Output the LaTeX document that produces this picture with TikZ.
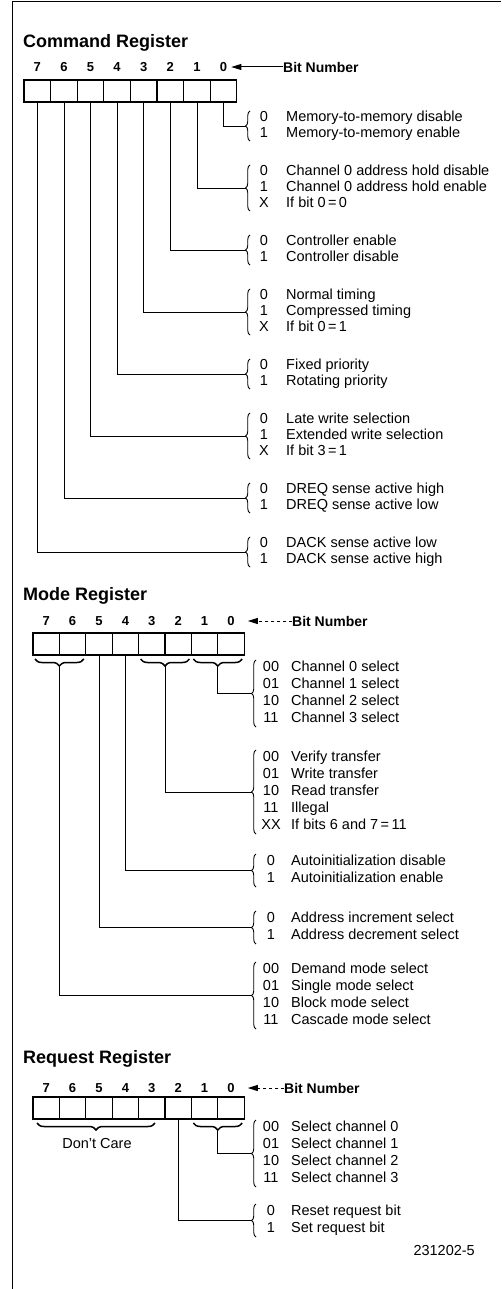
\documentclass[tikz,border=0pt]{standalone}
\usepackage{fontspec}
\setmainfont{Liberation Sans}
\usetikzlibrary{arrows.meta,decorations.pathreplacing}

\begin{document}
\begin{tikzpicture}[x=1pt,y=-1pt,
  cell/.style={draw,line width=1.1pt,minimum width=26.6pt,minimum height=22pt,inner sep=0pt,outer sep=0pt},
  regtitle/.style={font=\fontsize{18}{20}\selectfont\bfseries,anchor=west,inner sep=0pt},
  bitno/.style={font=\fontsize{13}{15}\selectfont\bfseries,inner sep=0pt},
  bitlbl/.style={font=\fontsize{14}{16}\selectfont\bfseries,anchor=west,inner sep=0pt},
  val/.style={font=\fontsize{14.5}{16}\selectfont,inner sep=0pt,text height=10pt,text depth=3pt},
  desc/.style={font=\fontsize{14.5}{16}\selectfont,anchor=west,inner sep=0pt,text height=10pt,text depth=3pt},
  lead/.style={line width=0.8pt},
  grpbrace/.style={decorate,decoration={brace,amplitude=4.5pt},line width=0.9pt},
  ubrace/.style={decorate,decoration={brace,amplitude=7pt},line width=1.5pt},
  bitarrow/.style={line width=1pt,-{Triangle[length=10pt,width=6pt]}}]
\useasboundingbox (0,0) rectangle (501,1289);
\draw[line width=1pt] (12,1289) -- (12,2) -- (501,2);

% command register
\node[regtitle] (cmdtitle) at (23,43) {Command Register};
\foreach \b in {0,...,7}{
  \node[cell] (c\b) at ({37.3+26.6*(7-\b)},91) {};
  \node[bitno] (cn\b) at ({37.3+26.6*(7-\b)},67) {\b};
}
\node[bitlbl] (cbit) at (283,67) {Bit Number};
\draw[bitarrow] (cbit.west) -- ([xshift=4pt]cn0.east);
\foreach \b/\y/\n/\rows in {
  0/118/2/{0/Memory-to-memory disable,1/Memory-to-memory enable},
  1/172/3/{0/Channel 0 address hold disable,1/Channel 0 address hold enable,X/If bit 0\,=\,0},
  2/242/2/{0/Controller enable,1/Controller disable},
  3/296/3/{0/Normal timing,1/Compressed timing,X/If bit 0\,=\,1},
  4/366/2/{0/Fixed priority,1/Rotating priority},
  5/420/3/{0/Late write selection,1/Extended write selection,X/If bit 3\,=\,1},
  6/490/2/{0/DREQ sense active high,1/DREQ sense active low},
  7/544/2/{0/DACK sense active low,1/DACK sense active high}}{
  \foreach \v/\t [count=\i] in \rows {
    \node[val] (cv\b\i) at (264,{\y+16*(\i-1)}) {\v};
    \node[desc] (cd\b\i) at (286,{\y+16*(\i-1)}) {\t};
  }
  \draw[grpbrace] (250,{\y+16*(\n-1)+7}) -- (250,{\y-7});
  \coordinate (ct\b) at (245.5,{\y+8*(\n-1)});
  \draw[lead] (c\b.south) |- (ct\b);
}

% mode register
\node[regtitle] (modetitle) at (23,596) {Mode Register};
\foreach \b in {0,...,7}{
  \node[cell,minimum width=26.4pt] (m\b) at ({46.2+26.4*(7-\b)},644) {};
  \node[bitno] (mn\b) at ({46.2+26.4*(7-\b)},621) {\b};
}
\node[bitlbl] (mbit) at (292,621) {Bit Number};
\draw[bitarrow,dashed] (mbit.west) -- ([xshift=13pt]mn0.east);
\draw[ubrace] ([shift={(-2,4)}]m0.south east) -- ([shift={(2,4)}]m1.south west);
\draw[ubrace] ([shift={(-2,4)}]m2.south east) -- ([shift={(2,4)}]m3.south west);
\draw[ubrace] ([shift={(-2,4)}]m6.south east) -- ([shift={(2,4)}]m7.south west);
\coordinate (mu10) at ([yshift=-11pt]m1.south east);
\coordinate (mu32) at ([yshift=-11pt]m3.south east);
\coordinate (mu76) at ([yshift=-11pt]m7.south east);
\foreach \s/\y/\n/\rows [count=\k] in {
  mu10/668/4/{00/Channel 0 select,01/Channel 1 select,10/Channel 2 select,11/Channel 3 select},
  mu32/758/5/{00/Verify transfer,01/Write transfer,10/Read transfer,11/Illegal,XX/If bits 6 and 7\,=\,11},
  m4.south/862/2/{0/Autoinitialization disable,1/Autoinitialization enable},
  m5.south/919/2/{0/Address increment select,1/Address decrement select},
  mu76/970/4/{00/Demand mode select,01/Single mode select,10/Block mode select,11/Cascade mode select}}{
  \foreach \v/\t [count=\i] in \rows {
    \node[val] (mv\k\i) at (271,{\y+17*(\i-1)}) {\v};
    \node[desc] (md\k\i) at (291,{\y+17*(\i-1)}) {\t};
  }
  \draw[grpbrace] (256,{\y+17*(\n-1)+8}) -- (256,{\y-8});
  \coordinate (mt\k) at (251.5,{\y+8.5*(\n-1)});
  \draw[lead] (\s) |- (mt\k);
}

% request register
\node[regtitle] (reqtitle) at (23,1059) {Request Register};
\foreach \b in {0,...,7}{
  \node[cell,minimum width=26.4pt] (r\b) at ({46.2+26.4*(7-\b)},1108) {};
  \node[bitno] (rn\b) at ({46.2+26.4*(7-\b)},1088) {\b};
}
\node[bitlbl] (rbit) at (284,1088) {Bit Number};
\draw[bitarrow,dashed] (rbit.west) -- ([xshift=13pt]rn0.east);
\draw[ubrace] ([shift={(-10,4)}]r3.south east) -- ([shift={(4,4)}]r7.south west);
\node[desc,anchor=center] (dontcare) at (97,1145) {Don't Care};
\draw[ubrace] ([shift={(-2,4)}]r0.south east) -- ([shift={(2,4)}]r1.south west);
\coordinate (ru10) at ([yshift=-11pt]r1.south east);
\foreach \s/\y/\n/\rows [count=\k] in {
  ru10/1128/4/{00/Select channel 0,01/Select channel 1,10/Select channel 2,11/Select channel 3},
  r2.south/1212/2/{0/Reset request bit,1/Set request bit}}{
  \foreach \v/\t [count=\i] in \rows {
    \node[val] (rv\k\i) at (271,{\y+17*(\i-1)}) {\v};
    \node[desc] (rd\k\i) at (291,{\y+17*(\i-1)}) {\t};
  }
  \draw[grpbrace] (256,{\y+17*(\n-1)+8}) -- (256,{\y-8});
  \coordinate (rt\k) at (251.5,{\y+8.5*(\n-1)});
  \draw[lead] (\s) |- (rt\k);
}
\node[desc,anchor=east] (figno) at (475,1252) {231202-5};
\end{tikzpicture}
\end{document}
